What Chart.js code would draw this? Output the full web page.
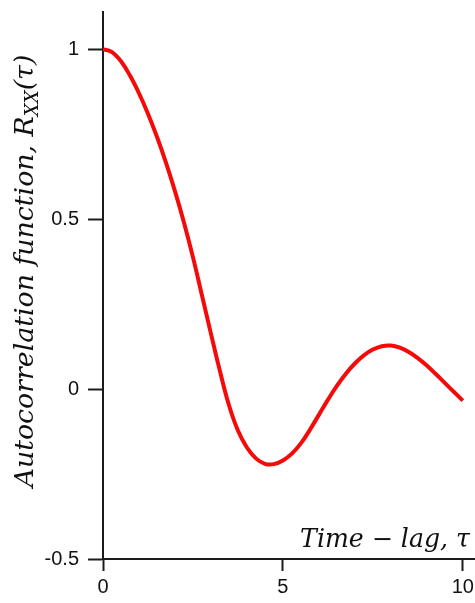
<!DOCTYPE html>
<html>
<head>
<meta charset="utf-8">
<script src="https://cdn.jsdelivr.net/npm/chart.js@4.4.1/dist/chart.umd.min.js"></script>
<style>
  html, body { margin: 0; padding: 0; background: #fff; }
  #wrap { width: 475px; height: 603px; }
</style>
</head>
<body>
<div id="wrap"><canvas id="acf"></canvas></div>
<script>
// Data (tau step 0.25)
const tauValues = [0, 0.25, 0.5, 0.75, 1.0, 1.25, 1.5, 1.75, 2.0, 2.25, 2.5, 2.75, 3.0, 3.25, 3.5, 3.75,
    4.0, 4.25, 4.5, 4.75, 5.0, 5.25, 5.5, 5.75, 6.0, 6.25, 6.5, 6.75, 7.0, 7.25, 7.5, 7.75,
    8.0, 8.25, 8.5, 8.75, 9.0, 9.25, 9.5, 9.75, 10.0];
const rxxValues = [1.0, 0.991, 0.964, 0.922, 0.870, 0.810, 0.742, 0.666, 0.582, 0.490, 0.388, 0.276, 0.163, 0.053, -0.047, -0.122,
    -0.172, -0.204, -0.22, -0.221, -0.21, -0.19, -0.16, -0.12, -0.076, -0.032, 0.009, 0.045, 0.075, 0.099, 0.116, 0.126,
    0.128, 0.122, 0.109, 0.091, 0.069, 0.044, 0.018, -0.008, -0.034];
const xTickValues = [0, 5, 10];
const yTickValues = [-0.5, 0, 0.5, 1];
const xTitleText = 'Time \u2212 lag, \u03c4';
const yTitleParts = ['Autocorrelation function, R', 'XX', '(\u03c4)'];

const axisColor = '#1c1c1c';
const titleFamily = '"DejaVu Serif", serif';

// draws the italic math-style axis titles (with subscript)
const mathTitles = {
    id: 'mathTitles',
    afterDraw(chart) {
        const ctx = chart.ctx;
        ctx.save();
        ctx.fillStyle = '#111';
        ctx.textBaseline = 'alphabetic';

        // y title, rotated
        let size = 22;
        const widthAt = (s) => {
            ctx.font = 'italic ' + s + 'px ' + titleFamily;
            let w = ctx.measureText(yTitleParts[0]).width + ctx.measureText(yTitleParts[2]).width;
            ctx.font = 'italic ' + (s * 0.68) + 'px ' + titleFamily;
            return w + ctx.measureText(yTitleParts[1]).width;
        };
        size = size * 433 / widthAt(size);
        const total = widthAt(size);
        ctx.translate(33, 271);
        ctx.rotate(-Math.PI / 2);
        let x = -total / 2;
        ctx.font = 'italic ' + size + 'px ' + titleFamily;
        ctx.fillText(yTitleParts[0], x, 0);
        x += ctx.measureText(yTitleParts[0]).width;
        ctx.font = 'italic ' + (size * 0.68) + 'px ' + titleFamily;
        ctx.fillText(yTitleParts[1], x, size * 0.18);
        x += ctx.measureText(yTitleParts[1]).width;
        ctx.font = 'italic ' + size + 'px ' + titleFamily;
        ctx.fillText(yTitleParts[2], x, 0);
        ctx.restore();

        // x title, inside the plot above the axis
        ctx.save();
        ctx.fillStyle = '#111';
        let xs = 22;
        ctx.font = 'italic ' + xs + 'px ' + titleFamily;
        xs = xs * 170 / ctx.measureText(xTitleText).width;
        ctx.font = 'italic ' + xs + 'px ' + titleFamily;
        ctx.textAlign = 'right';
        ctx.textBaseline = 'alphabetic';
        ctx.fillText(xTitleText, 470, 547);
        ctx.restore();
    }
};

const points = tauValues.map((t, i) => ({ x: t, y: rxxValues[i] }));

new Chart(document.getElementById('acf'), {
    type: 'line',
    data: {
        datasets: [{
            data: points,
            borderColor: '#f50a0a',
            borderWidth: 4,
            pointRadius: 0,
            fill: false,
            tension: 0.4
        }]
    },
    options: {
        responsive: true,
        maintainAspectRatio: false,
        animation: false,
        layout: { padding: { top: 12, right: 0, left: 0, bottom: 0 } },
        plugins: {
            legend: { display: false },
            tooltip: { enabled: false }
        },
        scales: {
            x: {
                type: 'linear',
                min: 0,
                max: 10.34,
                afterBuildTicks: (scale) => { scale.ticks = xTickValues.map(v => ({ value: v })); },
                afterFit: (scale) => { scale.height = 44; scale.paddingRight = 0; scale.paddingLeft = 0; },
                border: { display: true, color: axisColor, width: 2 },
                grid: { drawOnChartArea: false, drawTicks: true, tickLength: 12, tickColor: axisColor, tickWidth: 2 },
                ticks: {
                    color: '#111',
                    padding: 4,
                    maxRotation: 0,
                    font: { family: '"Liberation Sans", Arial, sans-serif', size: 20 },
                    callback: (v) => String(v)
                }
            },
            y: {
                min: -0.5,
                max: 1.109,
                afterBuildTicks: (scale) => { scale.ticks = yTickValues.map(v => ({ value: v })); },
                afterFit: (scale) => { scale.width = 103; scale.paddingTop = 0; scale.paddingBottom = 0; },
                border: { display: true, color: axisColor, width: 2 },
                grid: { drawOnChartArea: false, drawTicks: true, tickLength: 15, tickColor: axisColor, tickWidth: 2 },
                ticks: {
                    color: '#111',
                    padding: 9,
                    font: { family: '"Liberation Sans", Arial, sans-serif', size: 20 },
                    callback: (v) => String(v)
                }
            }
        }
    },
    plugins: [mathTitles]
});
</script>
</body>
</html>
